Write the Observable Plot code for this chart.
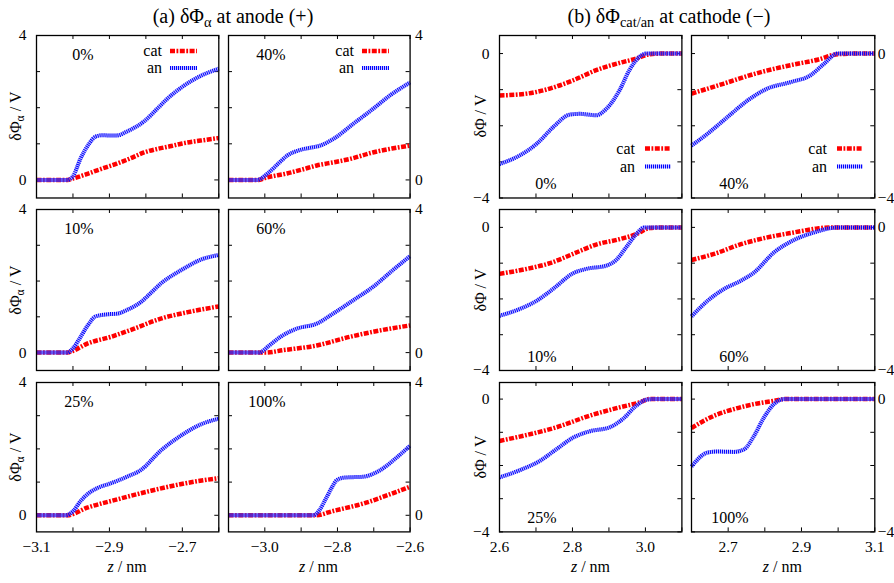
<!DOCTYPE html>
<html>
<head>
<meta charset="utf-8">
<script src="https://cdn.jsdelivr.net/npm/d3@7"></script>
<script src="https://cdn.jsdelivr.net/npm/@observablehq/plot@0.6"></script>
<style>
  body { margin: 0; background: #fff; }
  #fig { position: relative; width: 894px; height: 583px; overflow: hidden; background: #fff;
         font-family: "Liberation Serif", "Times New Roman", serif; color: #000; }
  #fig svg, #fig svg text { font-family: "Liberation Serif", "Times New Roman", serif !important; }
  .lbl { position: absolute; white-space: nowrap; line-height: 1; }
  .lbl sub { font-size: 72%; vertical-align: -0.3em; line-height: 0; }
</style>
</head>
<body>
<div id="fig"></div>
<script>
// ---- data: potential drop δΦ (V) versus distance z (nm), per loading ----
// (a) anode (+): pairs [z, δΦ]
const anode0Cat   = [[-3.1,0],[-3.05,0],[-3.015,0],[-3.0,0.04],[-2.96,0.17],[-2.924,0.30],[-2.88,0.45],[-2.842,0.60],[-2.805,0.76],[-2.768,0.86],[-2.73,0.94],[-2.70,1.01],[-2.65,1.09],[-2.6,1.16]];
const anode0An    = [[-3.1,0],[-3.05,0],[-3.015,0],[-3.0,0.1],[-2.979,0.6],[-2.956,1.0],[-2.938,1.2],[-2.92,1.24],[-2.90,1.23],[-2.88,1.23],[-2.85,1.35],[-2.805,1.62],[-2.768,1.98],[-2.74,2.26],[-2.70,2.58],[-2.65,2.88],[-2.6,3.08]];
const anode40Cat  = [[-3.1,0],[-3.05,0],[-3.02,0],[-2.994,0.07],[-2.939,0.18],[-2.90,0.28],[-2.857,0.40],[-2.81,0.49],[-2.766,0.58],[-2.703,0.76],[-2.65,0.87],[-2.6,0.95]];
const anode40An   = [[-3.1,0],[-3.05,0],[-3.021,0],[-2.99,0.2],[-2.96,0.48],[-2.939,0.67],[-2.903,0.83],[-2.87,0.9],[-2.848,0.95],[-2.812,1.13],[-2.757,1.55],[-2.703,1.96],[-2.657,2.33],[-2.6,2.70]];
const anode10Cat  = [[-3.1,0],[-3.05,0],[-3.016,0],[-3.0,0.05],[-2.961,0.25],[-2.896,0.44],[-2.832,0.67],[-2.759,0.95],[-2.685,1.13],[-2.6,1.29]];
const anode10An   = [[-3.1,0],[-3.05,0],[-3.016,0],[-3.0,0.12],[-2.979,0.44],[-2.96,0.75],[-2.938,1.01],[-2.905,1.07],[-2.878,1.09],[-2.85,1.2],[-2.814,1.41],[-2.785,1.68],[-2.759,1.93],[-2.704,2.30],[-2.649,2.60],[-2.6,2.73]];
const anode60Cat  = [[-3.1,0],[-3.05,0],[-3.0,0],[-2.948,0.07],[-2.857,0.2],[-2.766,0.44],[-2.703,0.58],[-2.6,0.76]];
const anode60An   = [[-3.1,0],[-3.05,0],[-3.016,0],[-2.99,0.18],[-2.957,0.44],[-2.912,0.67],[-2.857,0.81],[-2.812,1.09],[-2.757,1.46],[-2.703,1.83],[-2.648,2.30],[-2.6,2.70]];
const anode25Cat  = [[-3.1,0],[-3.05,0],[-3.016,0],[-2.961,0.23],[-2.878,0.48],[-2.786,0.74],[-2.694,0.96],[-2.6,1.12]];
const anode25An   = [[-3.1,0],[-3.05,0],[-3.02,0],[-3.0,0.12],[-2.979,0.43],[-2.955,0.68],[-2.933,0.82],[-2.90,0.95],[-2.878,1.04],[-2.85,1.17],[-2.814,1.36],[-2.759,1.95],[-2.704,2.40],[-2.649,2.74],[-2.6,2.91]];
const anode100Cat = [[-3.1,0],[-3.0,0],[-2.86,0],[-2.812,0.13],[-2.721,0.38],[-2.666,0.59],[-2.6,0.86]];
const anode100An  = [[-3.1,0],[-3.0,0],[-2.866,0],[-2.85,0.15],[-2.83,0.54],[-2.815,0.85],[-2.803,1.05],[-2.785,1.13],[-2.775,1.14],[-2.73,1.16],[-2.685,1.34],[-2.639,1.72],[-2.6,2.1]];

// (b) cathode (−): pairs [z, δΦ]
const cathode0Cat   = [[2.6,-1.16],[2.675,-1.11],[2.738,-0.97],[2.802,-0.74],[2.865,-0.46],[2.929,-0.26],[2.975,-0.14],[3.011,-0.02],[3.05,0],[3.1,0]];
const cathode0An    = [[2.6,-3.06],[2.656,-2.82],[2.702,-2.5],[2.747,-2.04],[2.793,-1.69],[2.82,-1.67],[2.865,-1.71],[2.893,-1.53],[2.929,-1.02],[2.956,-0.46],[2.984,-0.09],[3.002,0],[3.05,0],[3.1,0]];
const cathode40Cat  = [[2.6,-1.11],[2.689,-0.83],[2.78,-0.54],[2.871,-0.32],[2.944,-0.17],[2.998,-0.02],[3.05,0],[3.1,0]];
const cathode40An   = [[2.6,-2.55],[2.644,-2.22],[2.698,-1.76],[2.753,-1.3],[2.807,-0.97],[2.871,-0.79],[2.925,-0.6],[2.962,-0.28],[2.998,0],[3.05,0],[3.1,0]];
const cathode10Cat  = [[2.6,-1.3],[2.675,-1.16],[2.738,-1.0],[2.802,-0.74],[2.865,-0.48],[2.929,-0.33],[2.975,-0.19],[3.011,-0.02],[3.05,0],[3.1,0]];
const cathode10An   = [[2.6,-2.47],[2.656,-2.28],[2.702,-2.05],[2.747,-1.72],[2.802,-1.28],[2.838,-1.16],[2.893,-1.07],[2.92,-0.91],[2.947,-0.56],[2.975,-0.19],[2.997,0],[3.05,0],[3.1,0]];
const cathode60Cat  = [[2.6,-0.91],[2.662,-0.74],[2.735,-0.47],[2.807,-0.28],[2.88,-0.14],[2.944,-0.03],[2.98,0],[3.05,0],[3.1,0]];
const cathode60An   = [[2.6,-2.49],[2.644,-2.05],[2.689,-1.72],[2.735,-1.49],[2.771,-1.26],[2.825,-0.7],[2.88,-0.35],[2.935,-0.14],[2.98,-0.02],[3.0,0],[3.05,0],[3.1,0]];
const cathode25Cat  = [[2.6,-1.26],[2.675,-1.08],[2.756,-0.85],[2.847,-0.5],[2.929,-0.25],[2.984,-0.1],[3.011,0],[3.05,0],[3.1,0]];
const cathode25An   = [[2.6,-2.36],[2.656,-2.14],[2.711,-1.86],[2.756,-1.51],[2.802,-1.16],[2.847,-0.97],[2.902,-0.85],[2.938,-0.6],[2.975,-0.2],[3.002,-0.02],[3.02,0],[3.05,0],[3.1,0]];
const cathode100Cat = [[2.6,-0.87],[2.662,-0.5],[2.716,-0.3],[2.771,-0.15],[2.825,-0.05],[2.853,0],[2.9,0],[3.0,0],[3.1,0]];
const cathode100An  = [[2.6,-2.03],[2.644,-1.61],[2.671,-1.58],[2.716,-1.59],[2.744,-1.51],[2.771,-1.1],[2.798,-0.55],[2.825,-0.15],[2.853,0],[2.9,0],[3.0,0],[3.1,0]];

// loadings, in panel order (row by row, left then right)
const loadings = ["0%", "40%", "10%", "60%", "25%", "100%"];
const seriesNames = ["cat", "an"];

// axes
const anodeZDomain = [-3.1, -2.6];
const cathodeZDomain = [2.6, 3.1];
const anodePhiDomain = [-0.5, 4];
const cathodePhiDomain = [-4, 0.5];
const anodeZTicks = [-3.1, -3.0, -2.9, -2.8, -2.7, -2.6];
const cathodeZTicks = [2.6, 2.7, 2.8, 2.9, 3.0, 3.1];
const anodeZLabelsLeft = [-3.1, -2.9, -2.7];
const anodeZLabelsRight = [-3.0, -2.8, -2.6];
const cathodeZLabelsLeft = [2.6, 2.8, 3.0];
const cathodeZLabelsRight = [2.7, 2.9, 3.1];
const anodePhiTicks = [0, 1, 2, 3, 4];
const cathodePhiTicks = [-4, -3, -2, -1, 0];
const anodePhiLabels = [0, 4];
const cathodePhiLabels = [-4, 0];

const anodeCat = [anode0Cat, anode40Cat, anode10Cat, anode60Cat, anode25Cat, anode100Cat];
const anodeAn = [anode0An, anode40An, anode10An, anode60An, anode25An, anode100An];
const cathodeCat = [cathode0Cat, cathode40Cat, cathode10Cat, cathode60Cat, cathode25Cat, cathode100Cat];
const cathodeAn = [cathode0An, cathode40An, cathode10An, cathode60An, cathode25An, cathode100An];

// ---- layout (pixel frames of the panels) ----
const FONT = '"Liberation Serif", "Times New Roman", serif';
const colsA = [[36, 218.3], [227.7, 409.3]];
const colsB = [[499.3, 681.7], [690.7, 874]];
const rows = [[34.5, 197], [209, 370], [382.3, 531.7]];

const RED = "#ff0000", BLUE = "#0000ff";
const catStyle = {stroke: RED, strokeWidth: 4.5, strokeDasharray: "5,1.5,1.8,1.5", strokeLinecap: "butt"};
// the "an" line: pale blue body with fine dark-blue hatching on top
const anBase = {stroke: "#8a8aff", strokeOpacity: 0.5, strokeWidth: 4, strokeLinecap: "butt"};
const anStyle = {stroke: BLUE, strokeWidth: 4, strokeDasharray: "1,1", strokeLinecap: "butt"};

const fig = document.getElementById("fig");

function addLabel(html, x, y, size, rotate = 0) {
  const d = document.createElement("div");
  d.className = "lbl";
  d.innerHTML = html;
  d.style.left = x + "px";
  d.style.top = y + "px";
  d.style.fontSize = size + "px";
  d.style.transform = `translate(-50%,-50%)` + (rotate ? ` rotate(${rotate}deg)` : "");
  fig.appendChild(d);
}

function panel(o) {
  const [fx0, fx1] = o.col, [fy0, fy1] = o.row;
  const w = fx1 - fx0, h = fy1 - fy0;
  const m = {l: 46, r: 40, t: 12, b: 40};
  const T = 4; // inward tick length
  const marks = [
    Plot.tickY(o.yTicks, {y: d => d, insetRight: w - T, stroke: "black"}),
    Plot.tickY(o.yTicks, {y: d => d, insetLeft: w - T, stroke: "black"}),
    Plot.tickX(o.xTicks, {x: d => d, insetTop: h - T, stroke: "black"}),
    Plot.tickX(o.xTicks, {x: d => d, insetBottom: h - T, stroke: "black"}),
    Plot.line(o.cat, {x: d => d[0], y: d => d[1], curve: "monotone-x", ...catStyle}),
    Plot.line(o.an, {x: d => d[0], y: d => d[1], curve: "monotone-x", ...anBase}),
    Plot.line(o.an, {x: d => d[0], y: d => d[1], curve: "monotone-x", ...anStyle}),
    Plot.axisY({anchor: o.yAnchor, ticks: o.yLabels, tickSize: 0,
                tickPadding: o.yAnchor === "left" ? 10 : o.yPadRight, tickFormat: d3.format("d"), label: null}),
    Plot.frame({stroke: "black", strokeWidth: 1.3}),
    Plot.text([o.loading], {text: d => d, frameAnchor: o.pctTop ? "top-left" : "bottom-left",
               dx: 57, dy: o.pctTop ? 19 : -14, textAnchor: "end", lineAnchor: "middle", fontSize: 16})
  ];
  if (o.xLabels) {
    marks.push(Plot.axisX({anchor: "bottom", ticks: o.xLabels, tickSize: 0, tickPadding: 9,
                           tickFormat: d3.format(".1f"), label: null}));
  }
  const chart = Plot.plot({
    width: w + m.l + m.r, height: h + m.t + m.b,
    marginLeft: m.l, marginRight: m.r, marginTop: m.t, marginBottom: m.b,
    x: {domain: o.xDomain, axis: o.xLabels ? undefined : null},
    y: {domain: o.yDomain, axis: null},
    style: {background: "transparent", overflow: "visible", fontFamily: FONT, fontSize: "15.5px", color: "black"},
    marks
  });
  chart.style.position = "absolute";
  chart.style.left = (fx0 - m.l) + "px";
  chart.style.top = (fy0 - m.t) + "px";

  // key: line samples for the two series
  if (o.legend) {
    const g = d3.select(chart).append("g").attr("transform", `translate(${m.l},${m.t})`);
    const lg = o.legend;
    seriesNames.forEach((name, i) => {
      const y = lg.y + i * lg.gap;
      g.append("text").attr("x", lg.textX).attr("y", y).attr("dy", "0.32em")
        .attr("text-anchor", "end").attr("font-size", 16).attr("fill", "black").text(name);
      const layers = i === 0 ? [catStyle] : [anBase, anStyle];
      layers.forEach(st => {
        g.append("line").attr("x1", lg.x1).attr("x2", lg.x2).attr("y1", y).attr("y2", y)
          .attr("stroke", st.stroke).attr("stroke-width", st.strokeWidth)
          .attr("stroke-opacity", st.strokeOpacity ?? 1)
          .attr("stroke-dasharray", st.strokeDasharray ?? null);
      });
    });
  }
  fig.appendChild(chart);
}

for (let i = 0; i < 6; i++) {
  const r = Math.floor(i / 2), c = i % 2;
  const h = rows[r][1] - rows[r][0];
  panel({
    col: colsA[c], row: rows[r], xDomain: anodeZDomain, yDomain: anodePhiDomain,
    xTicks: anodeZTicks, yTicks: anodePhiTicks, yLabels: anodePhiLabels,
    yAnchor: c === 0 ? "left" : "right", yPadRight: 5,
    xLabels: r === 2 ? (c === 0 ? anodeZLabelsLeft : anodeZLabelsRight) : null,
    cat: anodeCat[i], an: anodeAn[i], loading: loadings[i], pctTop: true,
    legend: r === 0 ? {textX: 126, x1: 134, x2: 161, y: 16, gap: 17} : null
  });
  panel({
    col: colsB[c], row: rows[r], xDomain: cathodeZDomain, yDomain: cathodePhiDomain,
    xTicks: cathodeZTicks, yTicks: cathodePhiTicks, yLabels: cathodePhiLabels,
    yAnchor: c === 0 ? "left" : "right", yPadRight: 3,
    xLabels: r === 2 ? (c === 0 ? cathodeZLabelsLeft : cathodeZLabelsRight) : null,
    cat: cathodeCat[i], an: cathodeAn[i], loading: loadings[i], pctTop: false,
    legend: r === 0 ? {textX: 136, x1: 146, x2: 172, y: h - 49, gap: 18} : null
  });
}

// titles and axis labels
addLabel("(a) δΦ<sub>α</sub> at anode (+)", 233, 16, 20);
addLabel("(b) δΦ<sub>cat/an</sub> at cathode (−)", 669, 16, 20);
rows.forEach(([y0, y1]) => {
  addLabel("δΦ<sub>α</sub> / V", 16, (y0 + y1) / 2, 16, -90);
  addLabel("δΦ / V", 481, (y0 + y1) / 2, 16, -90);
});
[colsA[0], colsA[1], colsB[0], colsB[1]].forEach(([x0, x1]) => {
  addLabel("<i>z</i> / nm", (x0 + x1) / 2, 567, 16);
});
</script>
</body>
</html>
